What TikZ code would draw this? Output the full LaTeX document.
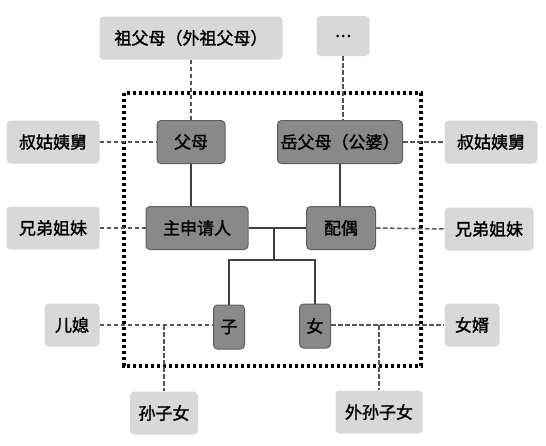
\documentclass[tikz,border=0pt]{standalone}
\usepackage{fontspec}
\newfontfamily\cjk{Noto Sans CJK SC}[FakeBold=1.6]
\newfontfamily\cjkheavy{Noto Sans CJK SC}[FakeBold=4]
\definecolor{boxlight}{HTML}{D8D8D8}
\definecolor{boxdark}{HTML}{898989}
\definecolor{boxedge}{HTML}{5E5E5E}
\definecolor{linegray}{HTML}{555555}
\begin{document}
\begin{tikzpicture}[x=1pt,y=-1pt,
    relbox/.style={fill=boxlight,rounded corners=4pt,inner sep=0pt,minimum height=43pt,
        font=\cjk\fontsize{17}{20}\selectfont},
    corebox/.style={fill=boxdark,draw=boxedge,line width=1pt,rounded corners=4pt,inner sep=0pt,
        minimum height=43pt,font=\cjk\fontsize{17}{20}\selectfont},
    kin/.style={draw=linegray,line width=1.5pt,dash pattern=on 4.5pt off 2.5pt},
    blood/.style={draw=black!75,line width=1.6pt}]
        \useasboundingbox[fill=white] (0,0) rectangle (546,445);

        % family circle
        \draw[line width=3.4pt,dash pattern=on 3.2pt off 2.8pt] (124,93) rectangle (421,366);

        \node[relbox,minimum width=183pt] (grand) at (191,38) {祖父母（外祖父母）};
        \node[relbox,minimum width=53pt,minimum height=40pt,font=\cjkheavy\fontsize{15}{18}\selectfont] (more) at (343,36) {…};

        \node[relbox,minimum width=93pt] (uncleL) at (53,142) {叔姑姨舅};
        \node[corebox,minimum width=68pt] (parents) at (191,142) {父母};
        \node[corebox,minimum width=125pt] (inlaws) at (340,142) {岳父母（公婆）};
        \node[relbox,minimum width=93pt] (uncleR) at (491,142) {叔姑姨舅};

        \node[relbox,minimum width=93pt] (sibL) at (53,228) {兄弟姐妹};
        \node[corebox,minimum width=102pt] (main) at (197,228) {主申请人};
        \node[corebox,minimum width=69pt] (spouse) at (341,228) {配偶};
        \node[relbox,minimum width=89pt] (sibR) at (489,229) {兄弟姐妹};

        \node[relbox,minimum width=55pt] (dil) at (72,325) {儿媳};
        \node[corebox,minimum width=31pt,minimum height=44pt] (son) at (229,327) {子};
        \node[corebox,minimum width=31pt,minimum height=44pt] (daughter) at (315,326) {女};
        \node[relbox,minimum width=55pt] (sil) at (472,325) {女婿};

        \node[relbox,minimum width=68pt] (gkids) at (164,413) {孙子女};
        \node[relbox,minimum width=87pt] (ogkids) at (379,412) {外孙子女};

        \coordinate (split) at (274,228);
        \coordinate (fork) at (274,260);

        % blood lines
        \draw[blood] (parents.south) -- (parents.south |- main.north);
        \draw[blood] (inlaws.south) -- (inlaws.south |- spouse.north);
        \draw[blood] (main.east) -- (spouse.west);
        \draw[blood] (split) -- (fork);
        \draw[blood] (son.north) |- (fork) -| (daughter.north);

        % other relatives
        \draw[kin] (grand.south) -- (parents.north);
        \draw[kin] (more.south) -- (more.south |- inlaws.north);
        \draw[kin] (uncleL.east) -- (parents.west);
        \draw[kin] (inlaws.east) -- (uncleR.west);
        \draw[kin] (sibL.east) -- (main.west);
        \draw[kin] (spouse.east) -- (sibR.west);
        \draw[kin] (dil.east) -- (dil.east -| son.west);
        \draw[kin] (dil.east -| daughter.east) -- (sil.west);
        \draw[kin] (gkids.north |- dil.east) -- (gkids.north);
        \draw[kin] (ogkids.north |- sil.west) -- (ogkids.north);
    \end{tikzpicture}
\end{document}
